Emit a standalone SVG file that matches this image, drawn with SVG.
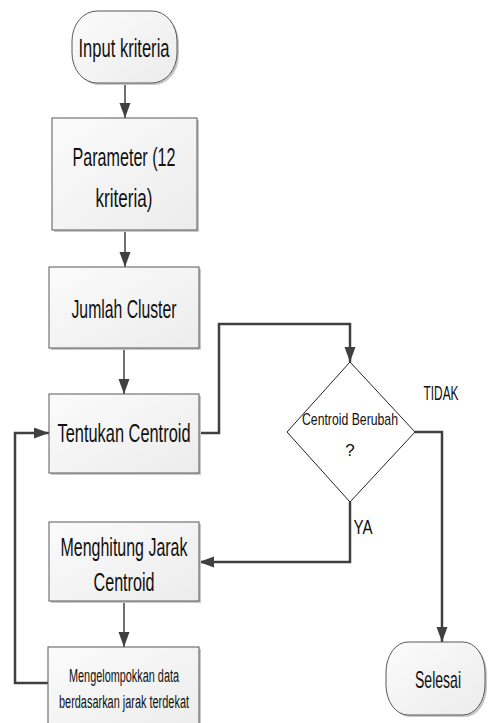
<svg xmlns="http://www.w3.org/2000/svg" width="490" height="723" viewBox="0 0 490 723">
<defs>
<linearGradient id="g" x1="0" y1="0" x2="1" y2="1">
<stop offset="0" stop-color="#fbfbfb"/>
<stop offset="1" stop-color="#ececec"/>
</linearGradient>
<marker id="ah" markerUnits="userSpaceOnUse" markerWidth="16" markerHeight="12" refX="15" refY="5.5" orient="auto">
<path d="M0,0 L15,5.5 L0,11 z" fill="#404040"/>
</marker>
<style>
.box{fill:url(#g);stroke:#595959;stroke-width:1}
.sh{fill:#c8c8c8}
.t{font-family:"Liberation Sans",Arial,sans-serif;fill:#111;text-anchor:middle}
.thin{fill:none;stroke:#404040;stroke-width:1.5}
.thick{fill:none;stroke:#404040;stroke-width:2.5}
</style>
</defs>
<rect width="490" height="723" fill="#fff"/>
<g id="connectors">
<path class="thin" d="M125,83 L125,118" marker-end="url(#ah)"/>
<path class="thin" d="M125,230 L125,267" marker-end="url(#ah)"/>
<path class="thin" d="M124,348 L124,394" marker-end="url(#ah)"/>
<path class="thick" d="M199,433 L219,433 L219,324 L350,324 L350,362" marker-end="url(#ah)"/>
<path class="thick" d="M415,432 L442,432 L442,642" marker-end="url(#ah)"/>
<path class="thick" d="M350,502 L350,562 L199,562" marker-end="url(#ah)"/>
<path class="thin" d="M124,601 L124,647" marker-end="url(#ah)"/>
<path class="thick" d="M48,683 L15,683 L15,433 L49,433" marker-end="url(#ah)"/>
</g>
<g id="input">
<rect class="sh" x="74" y="13" width="105" height="72" rx="25" ry="30"/>
<rect class="box" x="72" y="11" width="105" height="72" rx="25" ry="30"/>
<text class="t" x="124" y="57" font-size="25" textLength="91" lengthAdjust="spacingAndGlyphs">Input kriteria</text>
</g>
<g id="parameter">
<rect class="sh" x="54" y="120" width="145" height="112"/>
<rect class="box" x="52" y="118" width="145" height="112"/>
<text class="t" x="124" y="166" font-size="25" textLength="103" lengthAdjust="spacingAndGlyphs">Parameter (12</text>
<text class="t" x="124" y="207" font-size="25" textLength="57" lengthAdjust="spacingAndGlyphs">kriteria)</text>
</g>
<g id="jumlah">
<rect class="sh" x="51" y="269" width="150" height="81"/>
<rect class="box" x="49" y="267" width="150" height="81"/>
<text class="t" x="124" y="318" font-size="25" textLength="105" lengthAdjust="spacingAndGlyphs">Jumlah Cluster</text>
</g>
<g id="tentukan">
<rect class="sh" x="51" y="396" width="150" height="79"/>
<rect class="box" x="49" y="394" width="150" height="79"/>
<text class="t" x="124" y="442" font-size="25" textLength="133" lengthAdjust="spacingAndGlyphs">Tentukan Centroid</text>
</g>
<g id="decision">
<polygon points="350,362 415,432 350,502 287,432" fill="#fff" stroke="#222" stroke-width="1"/>
<text class="t" x="350" y="425" font-size="17" textLength="96" lengthAdjust="spacingAndGlyphs">Centroid Berubah</text>
<text class="t" x="350" y="456" font-size="17">?</text>
<text class="t" x="441" y="400" font-size="21" textLength="35" lengthAdjust="spacingAndGlyphs">TIDAK</text>
<text class="t" x="363" y="534" font-size="21" textLength="19" lengthAdjust="spacingAndGlyphs">YA</text>
</g>
<g id="menghitung">
<rect class="sh" x="51" y="524" width="150" height="79"/>
<rect class="box" x="49" y="522" width="150" height="79"/>
<text class="t" x="124" y="556" font-size="25" textLength="127" lengthAdjust="spacingAndGlyphs">Menghitung Jarak</text>
<text class="t" x="124" y="591" font-size="25" textLength="61" lengthAdjust="spacingAndGlyphs">Centroid</text>
</g>
<g id="mengelompokkan">
<rect class="sh" x="50" y="649" width="151" height="85"/>
<rect class="box" x="48" y="647" width="151" height="85"/>
<text class="t" x="124" y="682" font-size="18" textLength="110" lengthAdjust="spacingAndGlyphs">Mengelompokkan data</text>
<text class="t" x="124" y="708" font-size="18" textLength="130" lengthAdjust="spacingAndGlyphs">berdasarkan jarak terdekat</text>
</g>
<g id="selesai">
<rect class="sh" x="388" y="644" width="99" height="73" rx="22" ry="30"/>
<rect class="box" x="386" y="642" width="99" height="73" rx="22" ry="30"/>
<text class="t" x="438" y="688" font-size="24" textLength="46" lengthAdjust="spacingAndGlyphs">Selesai</text>
</g>
</svg>
